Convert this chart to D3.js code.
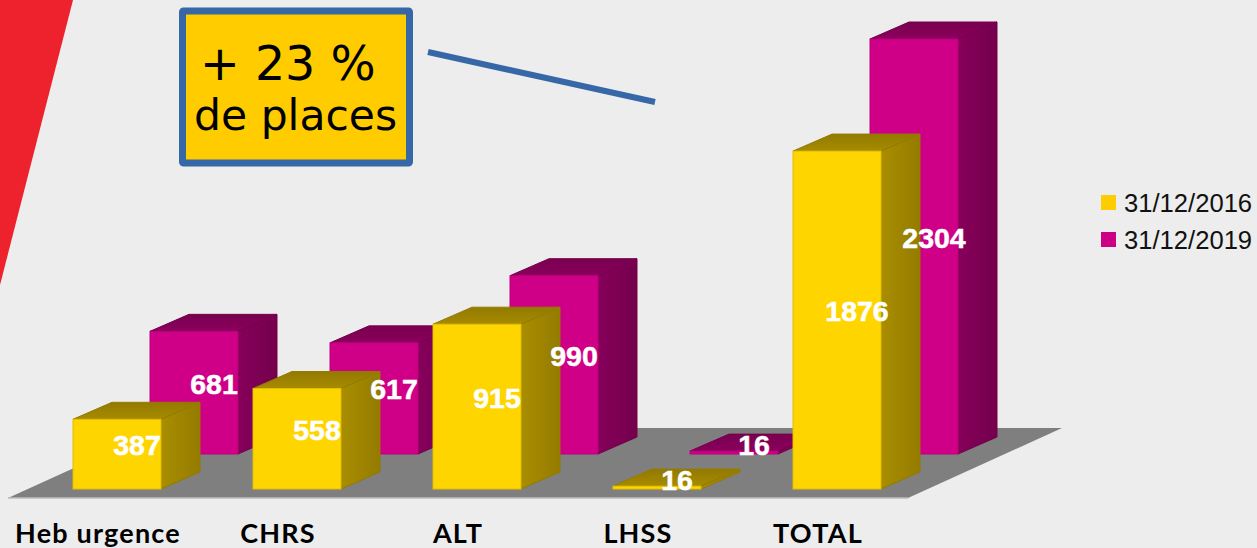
<!DOCTYPE html>
<html>
<head>
<meta charset="utf-8">
<script src="https://cdn.jsdelivr.net/npm/d3@7"></script>
<style>
html,body{margin:0;padding:0;background:#EDEDED;overflow:hidden}
svg{display:block}
</style>
</head>
<body>
<svg id="c" width="1257" height="548"></svg>
<script>
const categories = ["Heb urgence","CHRS","ALT","LHSS","TOTAL"];
const seriesNames = ["31/12/2016","31/12/2019"];
const values2016 = [387,558,915,16,1876];
const values2019 = [681,617,990,16,2304];
const noteLines = ["+ 23 %","de places"];

const W=1257,H=548;
const svg=d3.select("#c");
const defs=svg.append("defs");
function grad(id,c1,c2,x2,y2){
  const g=defs.append("linearGradient").attr("id",id).attr("x1",0).attr("y1",0).attr("x2",x2).attr("y2",y2);
  g.append("stop").attr("offset",0).attr("stop-color",c1);
  g.append("stop").attr("offset",1).attr("stop-color",c2);
}
grad("ySide","#A98E00","#947B00",1,0);
grad("yTop","#937A00","#A68B00",0,1);
grad("mSide","#86005A","#74004C",1,0);
grad("mTop","#79004F","#8A005D",0,1);

svg.append("rect").attr("width",W).attr("height",H).attr("fill","#EDEDED");
svg.append("path").attr("d","M0,0L73,0L0,285Z").attr("fill","#EE222C");

// floor
const floorPts=[[8,498],[908,498],[1062,428],[162,428]];
svg.append("path").attr("d",d3.line()(floorPts)+"Z").attr("fill","#7F7F7F");
svg.append("path").attr("d","M8,498L908,498").attr("stroke","#BDBDBD").attr("stroke-width",1.5);

const x=d3.scaleBand().domain(categories).range([27,927]).paddingInner(92/180).paddingOuter(46/180);
const h=d3.scaleLinear().domain([0,2304]).range([0,415]);

const bw=x.bandwidth(), dx=39, dy=17;
const series=[
  {vals:values2019,off:77,base:454,front:"#CF0087",edge:"#BC007A",side:"url(#mSide)",top:"url(#mTop)",sideStroke:"#74004C"},
  {vals:values2016,off:0,base:489,front:"#FFD500",edge:"#E3BE00",side:"url(#ySide)",top:"url(#yTop)",sideStroke:"#947B00"}
];
const line=d3.line();
series.forEach(s=>{
  const g=svg.append("g");
  const bars=g.selectAll("g").data(categories.map((c,i)=>({c,v:s.vals[i]}))).join("g");
  const X=d=>x(d.c)+s.off, T=d=>s.base-h(d.v);
  bars.append("path").attr("d",d=>line([[X(d)+bw,s.base],[X(d)+bw+dx,s.base-dy],[X(d)+bw+dx,T(d)-dy],[X(d)+bw,T(d)]])+"Z")
    .attr("fill",s.side).attr("stroke",s.sideStroke).attr("stroke-width",1).attr("stroke-linejoin","round");
  bars.append("path").attr("d",d=>line([[X(d),T(d)],[X(d)+dx,T(d)-dy],[X(d)+bw+dx,T(d)-dy],[X(d)+bw,T(d)]])+"Z")
    .attr("fill",s.top).attr("stroke",s.sideStroke).attr("stroke-width",1).attr("stroke-linejoin","round");
  bars.append("rect").attr("x",X).attr("y",T).attr("width",bw).attr("height",d=>h(d.v))
    .attr("fill",s.front).attr("stroke",s.edge).attr("stroke-width",1);
});

// value labels
const labels=svg.append("g").attr("font-family","'Liberation Sans',Arial,sans-serif").attr("font-weight",700).attr("font-size",28.5).attr("fill","#fff").attr("stroke","#fff").attr("stroke-width",0.5).attr("text-anchor","middle");
series.forEach(s=>{
  labels.selectAll(null).data(categories.map((c,i)=>({c,v:s.vals[i]}))).join("text")
    .attr("x",d=>x(d.c)+s.off+bw/2+20)
    .attr("y",d=>s.base-h(d.v)/2+1+(d.v<50?1.5:0))
    .text(d=>d.v);
});

// category axis
const axis=d3.axisBottom(x).tickSize(0).tickPadding(0);
const ag=svg.append("g").attr("transform","translate(-19,521)").call(axis);
ag.select(".domain").remove();
ag.selectAll("text").attr("font-family","Lato,sans-serif").attr("font-weight",700).attr("font-size",27).attr("letter-spacing",1.2).attr("fill","#000").attr("dy","0.8em").attr("y",0);

// legend
const lg=svg.append("g").selectAll("g").data(seriesNames).join("g");
const legendY=d3.scalePoint().domain(seriesNames).range([203,240]);
const legendCol=d3.scaleOrdinal().domain(seriesNames).range(["#FFCC00","#CC0085"]);
lg.append("rect").attr("x",1101).attr("y",d=>legendY(d)-8).attr("width",15).attr("height",15).attr("fill",legendCol);
lg.append("text").attr("x",1124).attr("y",d=>legendY(d)+9).attr("font-family","'Liberation Sans',Arial,sans-serif").attr("font-size",25.6).attr("fill","#111").text(d=>d);

// annotation
svg.append("rect").attr("x",182.5).attr("y",11).attr("width",227).attr("height",152).attr("rx",1).attr("fill","#FFCC00").attr("stroke","#3667A6").attr("stroke-width",7).attr("stroke-linejoin","round");
svg.append("path").attr("d","M428,52L655,102").attr("stroke","#3667A6").attr("stroke-width",6).attr("fill","none");
const note=svg.append("g").attr("font-family","'DejaVu Sans',sans-serif").attr("fill","#000");
note.append("text").attr("x",200).attr("y",80).attr("font-size",47.5).text(noteLines[0]);
note.append("text").attr("x",194).attr("y",130).attr("font-size",42.5).text(noteLines[1]);
</script>
</body>
</html>
